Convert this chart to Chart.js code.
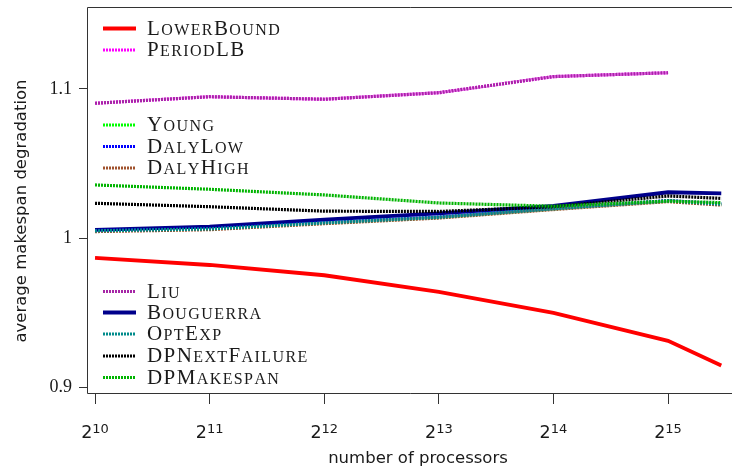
<!DOCTYPE html>
<html>
<head>
<meta charset="utf-8">
<script src="https://cdn.jsdelivr.net/npm/chart.js@4.4.1/dist/chart.umd.min.js"></script>
<style>
  html, body { margin: 0; padding: 0; background: #fff; }
  #wrap { width: 732px; height: 474px; }
</style>
</head>
<body>
<div id="wrap"><canvas id="degradationChart" width="732" height="474"></canvas></div>
<script>
// x values: number of processors
const processors = [1024, 2048, 4096, 8192, 16384, 32768, 45208];
const xTicks = [1024, 2048, 4096, 8192, 16384, 32768];
const xTickBase = '2';
const xTickExponents = ['10', '11', '12', '13', '14', '15'];
const yTicks = [0.9, 1, 1.1];
const yTickLabels = ['0.9', '1', '1.1'];

// series
const lowerBound    = [0.9866, 0.9819, 0.9750, 0.9638, 0.9497, 0.9310, 0.9145];
const periodLB      = [1.0904, 1.0948, 1.0931, 1.0975, 1.1083, 1.1109];
const young         = [1.0047, 1.0060, 1.0100, 1.0138, 1.0195, 1.0248, 1.0226];
const dalyLow       = [1.0050, 1.0063, 1.0103, 1.0141, 1.0198, 1.0251, 1.0229];
const dalyHigh      = [1.0043, 1.0056, 1.0096, 1.0134, 1.0191, 1.0244, 1.0221];
const liu           = [1.0904, 1.0948, 1.0931, 1.0975, 1.1083, 1.1109];
const bouguerra     = [1.0054, 1.0076, 1.0124, 1.0165, 1.0215, 1.0307, 1.0300];
const optExp        = [1.0048, 1.0061, 1.0101, 1.0139, 1.0196, 1.0249, 1.0227];
const dpNextFailure = [1.0233, 1.0210, 1.0180, 1.0178, 1.0210, 1.0282, 1.0266];
const dpMakespan    = [1.0356, 1.0327, 1.0289, 1.0235, 1.0213, 1.0248, 1.0237];

const seriesNames = ['LowerBound', 'PeriodLB', 'Young', 'DalyLow', 'DalyHigh',
                     'Liu', 'Bouguerra', 'OptExp', 'DPNextFailure', 'DPMakespan'];
const seriesValues = [lowerBound, periodLB, young, dalyLow, dalyHigh,
                      liu, bouguerra, optExp, dpNextFailure, dpMakespan];
const seriesColors = ['#ff0000', '#ff00ff', '#00ff00', '#0000ff', '#a0522d',
                      '#a626a6', '#00008b', '#008b8b', '#000000', '#00b400'];
const seriesSolid  = [true, false, false, false, false, false, true, false, false, false];

// bottom to top drawing order
const layering = ['LowerBound', 'Bouguerra', 'PeriodLB', 'Liu', 'Young', 'DalyLow',
                  'DalyHigh', 'OptExp', 'DPNextFailure', 'DPMakespan'];

// legend rows (y of each sample line), same order as seriesNames
const legendRows = [28.5, 50, 125, 146.5, 168, 291.5, 312.5, 334, 356, 377.5];

const datasets = seriesNames.map((name, i) => ({
    label: name,
    data: seriesValues[i].map((v, j) => ({ x: processors[j], y: v })),
    borderColor: seriesColors[i],
    backgroundColor: seriesColors[i],
    borderWidth: seriesSolid[i] ? 3.8 : 3.2,
    borderDash: seriesSolid[i] ? [] : [2, 1],
    borderCapStyle: 'butt',
    pointRadius: 0,
    tension: 0,
    fill: false,
    order: layering.length - layering.indexOf(name)
}));

// LaTeX-like small caps: capitals full size, lower case as smaller capitals
function smallCapsText(ctx, text, x, y, big, small, family, spacing) {
    let cx = x;
    for (const ch of text) {
        const isLower = ch !== ch.toUpperCase();
        ctx.font = (isLower ? small : big) + 'px ' + family;
        const glyph = ch.toUpperCase();
        ctx.fillText(glyph, cx, y);
        cx += ctx.measureText(glyph).width + spacing;
    }
}

const framePlugin = {
    id: 'frame',
    beforeDatasetsDraw(chart) {
        const { ctx, chartArea: a } = chart;
        ctx.save();
        ctx.strokeStyle = '#333';
        ctx.lineWidth = 1;
        ctx.beginPath();
        ctx.moveTo(a.right + 1, Math.round(a.top) + 0.5);
        ctx.lineTo(Math.round(a.left) + 0.5, Math.round(a.top) + 0.5);
        ctx.lineTo(Math.round(a.left) + 0.5, Math.round(a.bottom) + 0.5);
        ctx.lineTo(a.right + 1, Math.round(a.bottom) + 0.5);
        ctx.stroke();
        ctx.restore();
    },
    afterDraw(chart, args, opts) {
        const ctx = chart.ctx;
        ctx.save();
        // legend
        chart.data.datasets.forEach((ds, i) => {
            const y = opts.rows[i];
            ctx.strokeStyle = ds.borderColor;
            ctx.lineWidth = ds.borderWidth;
            ctx.setLineDash(ds.borderDash);
            ctx.lineCap = 'butt';
            ctx.beginPath();
            ctx.moveTo(opts.lineX1, y);
            ctx.lineTo(opts.lineX2, y);
            ctx.stroke();
            ctx.setLineDash([]);
            ctx.fillStyle = '#1a1a1a';
            ctx.textAlign = 'left';
            ctx.textBaseline = 'alphabetic';
            smallCapsText(ctx, ds.label, opts.textX, y + 6, 21, 16, '"Liberation Serif"', 1.4);
        });

        // x tick labels: 2 with raised exponent
        const xs = chart.scales.x;
        ctx.fillStyle = '#1a1a1a';
        ctx.textBaseline = 'alphabetic';
        xTicks.forEach((v, i) => {
            const px = xs.getPixelForValue(v);
            ctx.font = '17.5px "DejaVu Sans"';
            const wBase = ctx.measureText(xTickBase).width;
            ctx.font = '13px "DejaVu Sans"';
            const wExp = ctx.measureText(xTickExponents[i]).width;
            const left = px - (wBase + wExp) / 2;
            ctx.textAlign = 'left';
            ctx.font = '17.5px "DejaVu Sans"';
            ctx.fillText(xTickBase, left, 438);
            ctx.font = '13px "DejaVu Sans"';
            ctx.fillText(xTickExponents[i], left + wBase, 432.5);
        });

        // axis titles
        ctx.font = '16.5px "DejaVu Sans"';
        ctx.textAlign = 'center';
        ctx.fillText(opts.xTitle, 418, 463);
        ctx.translate(26, 211);
        ctx.rotate(-Math.PI / 2);
        ctx.fillText(opts.yTitle, 0, 0);
        ctx.restore();
    }
};

new Chart(document.getElementById('degradationChart'), {
    type: 'line',
    data: { datasets: datasets },
    options: {
        responsive: false,
        animation: false,
        devicePixelRatio: 1,
        layout: { padding: { top: 7, left: 0, right: 0, bottom: 0 } },
        plugins: {
            legend: { display: false },
            tooltip: { enabled: false },
            frame: {
                rows: legendRows,
                lineX1: 103,
                lineX2: 136,
                textX: 147,
                xTitle: 'number of processors',
                yTitle: 'average makespan degradation'
            }
        },
        scales: {
            x: {
                type: 'logarithmic',
                min: 975.5,
                max: 48240,
                afterBuildTicks: scale => { scale.ticks = xTicks.map(v => ({ value: v })); },
                afterFit: scale => { scale.height = 81; scale.paddingLeft = 0; scale.paddingRight = 0; },
                border: { display: false },
                grid: { drawOnChartArea: false, tickLength: 11, color: '#333', tickWidth: 1 },
                ticks: { display: false, autoSkip: false, maxRotation: 0 }
            },
            y: {
                type: 'linear',
                min: 0.896,
                max: 1.155,
                afterBuildTicks: scale => { scale.ticks = yTicks.map(v => ({ value: v })); },
                afterFit: scale => { scale.width = 87; scale.paddingTop = 0; scale.paddingBottom = 0; },
                border: { display: false },
                grid: { drawOnChartArea: false, tickLength: 8, color: '#333', tickWidth: 1 },
                ticks: {
                    padding: 7,
                    color: '#1a1a1a',
                    font: { family: 'Liberation Serif', size: 18 },
                    callback: value => yTickLabels[yTicks.indexOf(value)]
                }
            }
        }
    },
    plugins: [framePlugin]
});
</script>
</body>
</html>
